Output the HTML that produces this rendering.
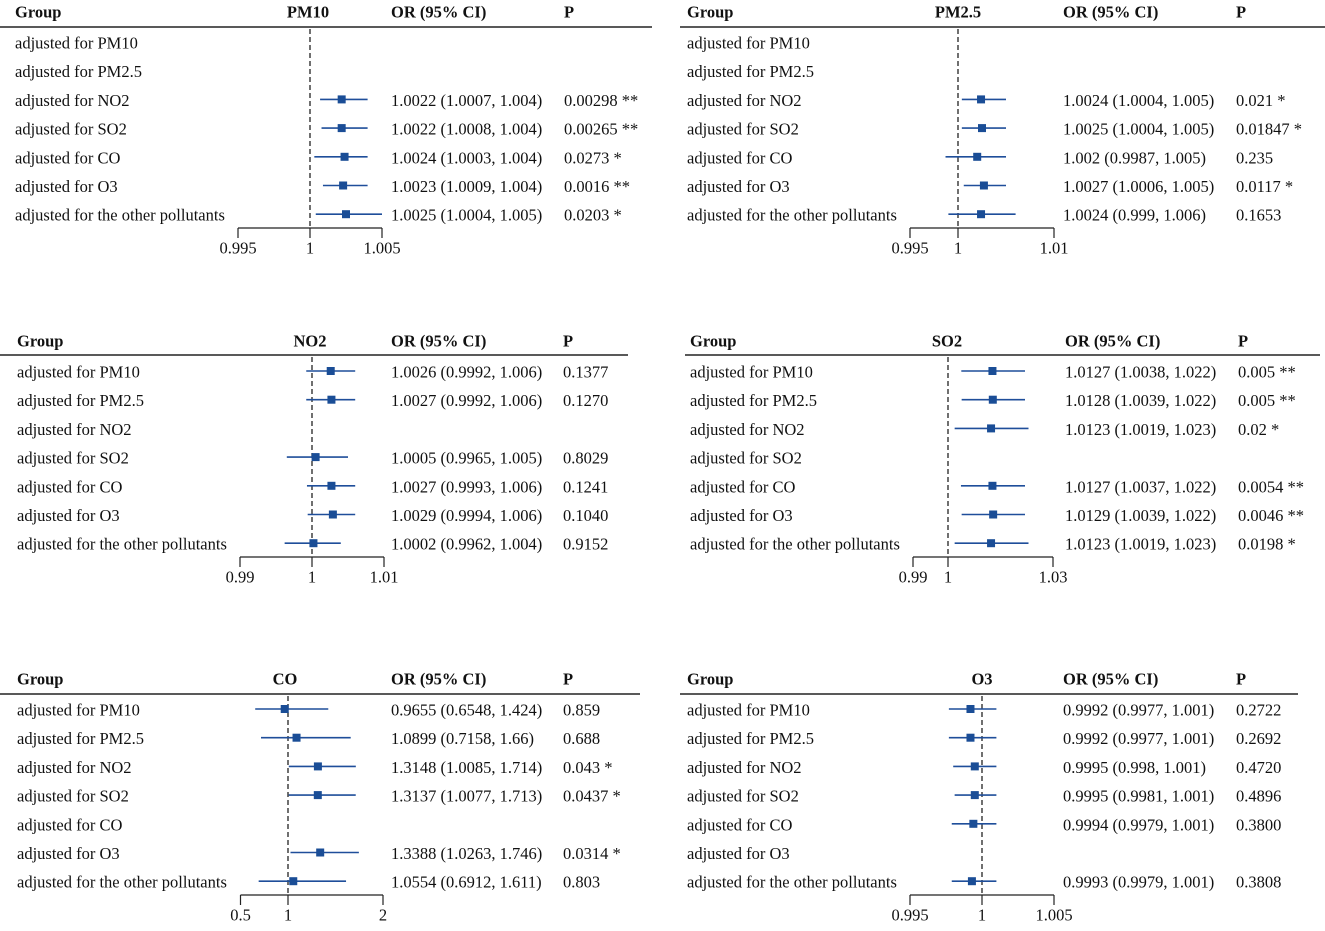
<!DOCTYPE html>
<html><head><meta charset="utf-8"><style>
body{margin:0;background:#fff}
svg text{font-family:"Liberation Serif",serif;font-size:16.5px;fill:#111}
</style></head><body>
<svg id="c" width="1325" height="926" xmlns="http://www.w3.org/2000/svg"></svg>
<script>
const groups=["adjusted for PM10","adjusted for PM2.5","adjusted for NO2","adjusted for SO2","adjusted for CO","adjusted for O3","adjusted for the other pollutants"];
const pm10OR=[null,null,1.0022,1.0022,1.0024,1.0023,1.0025];
const pm10Lo=[null,null,1.0007,1.0008,1.0003,1.0009,1.0004];
const pm10Hi=[null,null,1.004,1.004,1.004,1.004,1.005];
const pm10P=["","","0.00298 **","0.00265 **","0.0273 *","0.0016 **","0.0203 *"];
const pm25OR=[null,null,1.0024,1.0025,1.002,1.0027,1.0024];
const pm25Lo=[null,null,1.0004,1.0004,0.9987,1.0006,0.999];
const pm25Hi=[null,null,1.005,1.005,1.005,1.005,1.006];
const pm25P=["","","0.021 *","0.01847 *","0.235","0.0117 *","0.1653"];
const no2OR=[1.0026,1.0027,null,1.0005,1.0027,1.0029,1.0002];
const no2Lo=[0.9992,0.9992,null,0.9965,0.9993,0.9994,0.9962];
const no2Hi=[1.006,1.006,null,1.005,1.006,1.006,1.004];
const no2P=["0.1377","0.1270","","0.8029","0.1241","0.1040","0.9152"];
const so2OR=[1.0127,1.0128,1.0123,null,1.0127,1.0129,1.0123];
const so2Lo=[1.0038,1.0039,1.0019,null,1.0037,1.0039,1.0019];
const so2Hi=[1.022,1.022,1.023,null,1.022,1.022,1.023];
const so2P=["0.005 **","0.005 **","0.02 *","","0.0054 **","0.0046 **","0.0198 *"];
const coOR=[0.9655,1.0899,1.3148,1.3137,null,1.3388,1.0554];
const coLo=[0.6548,0.7158,1.0085,1.0077,null,1.0263,0.6912];
const coHi=[1.424,1.66,1.714,1.713,null,1.746,1.611];
const coP=["0.859","0.688","0.043 *","0.0437 *","","0.0314 *","0.803"];
const o3OR=[0.9992,0.9992,0.9995,0.9995,0.9994,null,0.9993];
const o3Lo=[0.9977,0.9977,0.998,0.9981,0.9979,null,0.9979];
const o3Hi=[1.001,1.001,1.001,1.001,1.001,null,1.001];
const o3P=["0.2722","0.2692","0.4720","0.4896","0.3800","","0.3808"];
const pm10Ticks=[0.995,1,1.005], pm25Ticks=[0.995,1,1.01], no2Ticks=[0.99,1,1.01], so2Ticks=[0.99,1,1.03], coTicks=[0.5,1,2], o3Ticks=[0.995,1,1.005];
const tickLabel=t=>String(t);

const panels=[
 {name:"PM10",or:pm10OR,lo:pm10Lo,hi:pm10Hi,p:pm10P,ticks:pm10Ticks,ox:0,gx:15,x0:0.995,px0:238,sc:14400,hx:308,orx:391,pxp:564,lineEnd:652,hy:11,ly:27,ry:42,ay:228},
 {name:"PM2.5",or:pm25OR,lo:pm25Lo,hi:pm25Hi,p:pm25P,ticks:pm25Ticks,ox:680,gx:687,x0:0.995,px0:910,sc:9600,hx:958,orx:1063,pxp:1236,lineEnd:1325,hy:11,ly:27,ry:42,ay:228},
 {name:"NO2",or:no2OR,lo:no2Lo,hi:no2Hi,p:no2P,ticks:no2Ticks,ox:0,gx:17,x0:0.99,px0:240,sc:7200,hx:310,orx:391,pxp:563,lineEnd:628,hy:340,ly:355,ry:371,ay:557},
 {name:"SO2",or:so2OR,lo:so2Lo,hi:so2Hi,p:so2P,ticks:so2Ticks,ox:685,gx:690,x0:0.99,px0:913,sc:3500,hx:947,orx:1065,pxp:1238,lineEnd:1320,hy:340,ly:355,ry:371,ay:557},
 {name:"CO",or:coOR,lo:coLo,hi:coHi,p:coP,ticks:coTicks,ox:0,gx:17,x0:0.5,px0:240.5,sc:95,hx:285,orx:391,pxp:563,lineEnd:640,hy:678,ly:694,ry:709,ay:895},
 {name:"O3",or:o3OR,lo:o3Lo,hi:o3Hi,p:o3P,ticks:o3Ticks,ox:680,gx:687,x0:0.995,px0:910,sc:14400,hx:982,orx:1063,pxp:1236,lineEnd:1298,hy:678,ly:694,ry:709,ay:895}
];
const svg=document.getElementById('c');const NS="http://www.w3.org/2000/svg";
function mk(tag,a,parent){const e=document.createElementNS(NS,tag);for(const k in a)e.setAttribute(k,a[k]);(parent||svg).appendChild(e);return e;}
function txt(s,x,y,parent,opt){const e=mk('text',Object.assign({x:x,y:y+1,'dominant-baseline':'central'},opt||{}),parent);e.textContent=s;return e;}
const fmt=v=>String(v);
panels.forEach((P,pi)=>{
 const g=mk('g',{});
 
 
 const X=v=>P.px0+(v-P.x0)*P.sc;
 const Y=i=>P.ry+i*28.7;
 let h=txt("Group",P.gx,P.hy,g,{'font-weight':'bold'});
 
 h=txt(P.name,P.hx,P.hy,g,{'font-weight':'bold','text-anchor':'middle'});
 
 h=txt("OR (95% CI)",P.orx,P.hy,g,{'font-weight':'bold'});
 
 h=txt("P",P.pxp,P.hy,g,{'font-weight':'bold'});
 
 let l=mk('line',{x1:P.ox,x2:P.lineEnd,y1:P.ly,y2:P.ly,stroke:'#222','stroke-width':1.5},g);
 
 l=mk('line',{x1:X(1),x2:X(1),y1:P.ly+2,y2:P.ay,stroke:'#222','stroke-width':1.3,'stroke-dasharray':'5,3'},g);
 
 groups.forEach((gr,i)=>{
  const t=txt(gr,P.gx,Y(i),g);
  
  if(P.or[i]!==null){
   const ci=mk('line',{x1:X(P.lo[i]),x2:X(P.hi[i]),y1:Y(i),y2:Y(i),stroke:'#1f4e9a','stroke-width':1.6},g);
   
   const m=mk('rect',{x:X(P.or[i])-4,y:Y(i)-4,width:8,height:8,fill:'#1a4d96'},g);
   
   const o=txt(fmt(P.or[i])+" ("+fmt(P.lo[i])+", "+fmt(P.hi[i])+")",P.orx,Y(i),g);
   
   const p=txt(P.p[i],P.pxp,Y(i),g);
   
  }
 });
 const t0=P.ticks[0],t1=P.ticks[P.ticks.length-1];
 l=mk('line',{x1:X(t0),x2:X(t1),y1:P.ay,y2:P.ay,stroke:'#222','stroke-width':1.2},g);
 
 P.ticks.forEach(t=>{
  const tk=mk('line',{x1:X(t),x2:X(t),y1:P.ay,y2:P.ay+10,stroke:'#222','stroke-width':1.2},g);
  
  const tl=txt(tickLabel(t),X(t),P.ay+19,g,{'text-anchor':'middle'});
  
 });
});
</script>
</body></html>
